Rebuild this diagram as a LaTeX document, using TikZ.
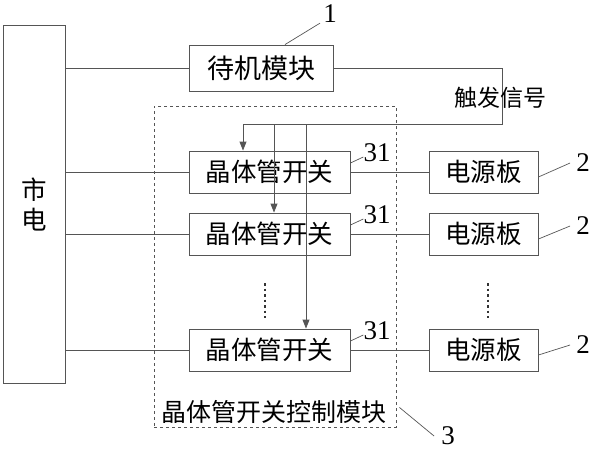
\documentclass[tikz,border=0pt]{standalone}
\usepackage{fontspec}
\setmainfont{Liberation Serif}
\newfontfamily\cjk{Noto Sans CJK SC}
\usetikzlibrary{arrows.meta,positioning}
\definecolor{cLine}{RGB}{85,85,85}
\tikzset{
  basebox/.style={rectangle,draw=cLine,line width=0.9pt,align=center,
                  font=\cjk\fontsize{25.5}{30}\selectfont,inner sep=0pt},
  standbybox/.style={basebox,minimum width=144pt,minimum height=46pt,
                     font=\cjk\fontsize{27}{30}\selectfont},
  switchbox/.style={basebox,minimum width=161pt,minimum height=42pt},
  boardbox/.style={basebox,minimum width=109pt,minimum height=42pt},
  mainsbox/.style={basebox,minimum width=62pt,minimum height=358pt},
  ctrlframe/.style={rectangle,draw=cLine,dashed,line width=0.8pt,
                    minimum width=242pt,minimum height=321pt},
  cjklbl/.style={font=\cjk\fontsize{25}{25}\selectfont,inner sep=0pt},
  numlbl/.style={font=\fontsize{27}{27}\selectfont,inner sep=0pt},
  wire/.style={draw=cLine,line width=0.9pt},
  sigarr/.style={wire,-{Triangle[length=9pt,width=7pt]}},
  leader/.style={draw=cLine,line width=0.7pt},
  vdots/.style={draw=black!80,line width=2pt,dash pattern=on 2.5pt off 3pt}
}
\begin{document}
\begin{tikzpicture}[x=1pt,y=-1pt]
  \useasboundingbox (0,0) rectangle (593,450);
  % blocks
  \node[mainsbox] (mains) at (34,204) {市\\电};
  \node[standbybox] (standby) at (261,68) {待机模块};
  \node[ctrlframe] (ctrl) at (275,266.5) {};
  \node[cjklbl] (ctrlname) at (274,412) {晶体管开关控制模块};
  \foreach \i/\y in {1/172,2/234,3/350} {
    \node[switchbox] (sw\i) at (269.5,\y) {晶体管开关};
    \node[boardbox] (pb\i) at (483.5,\y) {电源板};
  }
  \draw[vdots] (265,283) -- (265,318);
  \draw[vdots] (488,283) -- (488,318);

  % mains wiring
  \draw[wire] (mains.east |- standby) -- (standby.west);
  \foreach \i in {1,2,3} {
    \draw[wire] (mains.east |- sw\i) -- (sw\i.west);
    \draw[wire] (sw\i) -- (pb\i);
  }

  % trigger signal
  \coordinate (turn) at (502,124);
  \coordinate (tap1) at (243,124);
  \coordinate (tap2) at (274,124);
  \coordinate (tap3) at (306,124);
  \draw[wire] (standby.east) -| (turn) -- (tap1);
  \foreach \i in {1,2,3}
    \draw[sigarr] (tap\i) -- (tap\i |- sw\i.north);
  \node[cjklbl,font=\cjk\fontsize{23}{23}\selectfont] (trig) at (500,98) {触发信号};

  % reference numbers
  \node[numlbl] (n1) at (330,14) {1};
  \draw[leader] ([xshift=24pt]standby.north) -- ([xshift=-3pt]n1.south west);
  \foreach \i/\y in {1/153,2/215,3/331} {
    \node[numlbl] (lbl\i) at (377,\y) {31};
    \draw[leader] ([yshift=9pt]sw\i.east) -- ([yshift=-4pt]lbl\i.west);
  }
  \foreach \i/\y in {1/163,2/226,3/345} {
    \node[numlbl] (num\i) at (583,\y) {2};
    \draw[leader] ([yshift=-5pt]pb\i.east) -- ([xshift=-6pt]num\i.west);
  }
  \node[numlbl] (n3) at (448,436) {3};
  \draw[leader] ([xshift=3pt,yshift=20pt]ctrl.south east) -- ([xshift=-7pt]n3.west);
\end{tikzpicture}
\end{document}
